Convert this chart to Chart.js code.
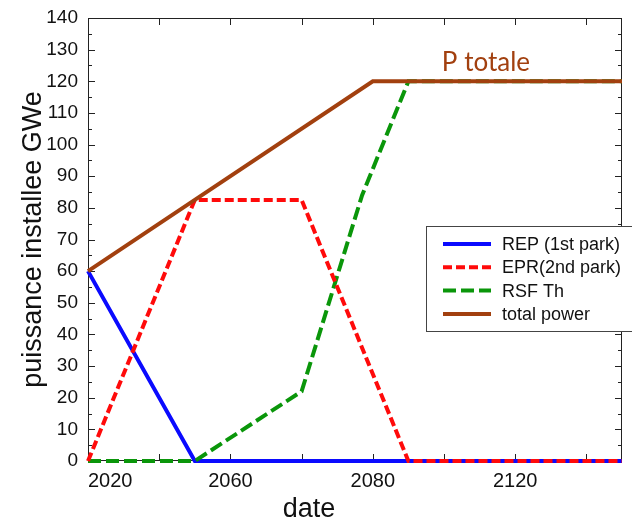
<!DOCTYPE html>
<html>
<head>
<meta charset="utf-8">
<script src="https://cdn.jsdelivr.net/npm/chart.js@4.4.1/dist/chart.umd.min.js"></script>
<style>
  body { margin: 0; background: #fff; }
</style>
</head>
<body>
<canvas id="power" width="632" height="523"></canvas>
<script>
// tick labels as printed on the original (every other tick labelled)
var xTickLabels = ['2020', '', '2060', '', '2080', '', '2120', ''];

var repYears = [2020, 2035, 2095];
var repValues = [60, 0, 0];

var eprYears = [2020, 2035, 2050, 2065, 2095];
var eprValues = [0, 82.5, 82.5, 0, 0];

var rsfYears = [2020, 2035, 2050, 2058.5, 2065, 2095];
var rsfValues = [0, 0, 22, 84, 120, 120];

var totalYears = [2020, 2035, 2060, 2095];
var totalValues = [60, 82.5, 120, 120];

function pts(xs, ys) {
    return xs.map(function (x, i) { return {x: x, y: ys[i]}; });
}

var FONT = "'Liberation Sans', Arial, sans-serif";

var framePlugin = {
    id: 'frame',
    beforeDatasetsDraw: function (chart) {
        var a = chart.chartArea, ctx = chart.ctx;
        var xs = chart.scales.x, ys = chart.scales.y;
        ctx.save();
        ctx.strokeStyle = '#222';
        ctx.lineWidth = 1;
        ctx.strokeRect(a.left + 0.5, a.top + 0.5, a.right - a.left - 1, a.bottom - a.top - 1);
        ctx.beginPath();
        for (var v = 0; v <= 140; v += 5) {
            var py = Math.round(ys.getPixelForValue(v)) + 0.5;
            var len = (v % 10 === 0) ? 7 : 4;
            ctx.moveTo(a.left, py); ctx.lineTo(a.left + len, py);
            ctx.moveTo(a.right, py); ctx.lineTo(a.right - len, py);
        }
        for (var yr = 2030; yr < 2095; yr += 10) {
            var px = Math.round(xs.getPixelForValue(yr)) + 0.5;
            ctx.moveTo(px, a.bottom); ctx.lineTo(px, a.bottom - 7);
            ctx.moveTo(px, a.top); ctx.lineTo(px, a.top + 7);
        }
        ctx.stroke();
        ctx.restore();
    },
    afterDraw: function (chart) {
        var ctx = chart.ctx;
        var xs = chart.scales.x, ys = chart.scales.y;
        ctx.save();
        // x axis title, sitting left of centre as in the original
        ctx.fillStyle = '#111';
        ctx.font = '27px ' + FONT;
        ctx.textAlign = 'center';
        ctx.textBaseline = 'alphabetic';
        ctx.fillText('date', 309, 517);

        // "P totale" annotation
        ctx.fillStyle = '#A2400F';
        ctx.font = "26px Lato, 'Open Sans', sans-serif";
        ctx.textAlign = 'left';
        ctx.fillText('P totale', xs.getPixelForValue(2069.7), ys.getPixelForValue(123.2));

        // legend box inside the plot
        var bx = 426, by = 226, bw = 220, bh = 105;
        ctx.fillStyle = '#fff';
        ctx.fillRect(bx, by, bw, bh);
        ctx.strokeStyle = '#444';
        ctx.lineWidth = 1;
        ctx.strokeRect(bx + 0.5, by + 0.5, bw, bh);
        ctx.font = '18px ' + FONT;
        ctx.textBaseline = 'middle';
        chart.data.datasets.forEach(function (ds, i) {
            var ry = by + 18 + i * 23.3;
            ctx.beginPath();
            ctx.strokeStyle = ds.borderColor;
            ctx.lineWidth = 4;
            ctx.setLineDash(ds.borderDash || []);
            ctx.moveTo(bx + 17, ry);
            ctx.lineTo(bx + 65, ry);
            ctx.stroke();
            ctx.setLineDash([]);
            ctx.fillStyle = '#111';
            ctx.fillText(ds.label, bx + 76, ry + 1);
        });
        ctx.restore();
    }
};

var chart = new Chart(document.getElementById('power'), {
    type: 'line',
    data: {
        datasets: [
            {
                label: 'REP (1st park)',
                data: pts(repYears, repValues),
                borderColor: '#0a0aff',
                borderWidth: 4,
                order: 3
            },
            {
                label: 'EPR(2nd park)',
                data: pts(eprYears, eprValues),
                borderColor: '#ff0a0a',
                borderWidth: 4,
                borderDash: [9, 4],
                order: 1
            },
            {
                label: 'RSF Th',
                data: pts(rsfYears, rsfValues),
                borderColor: '#0a960a',
                borderWidth: 4,
                borderDash: [13, 5],
                order: 2
            },
            {
                label: 'total power',
                data: pts(totalYears, totalValues),
                borderColor: '#A2400F',
                borderWidth: 4,
                order: 0
            }
        ]
    },
    options: {
        responsive: false,
        animation: false,
        layout: { padding: { top: 0, right: 10, left: 0, bottom: 0 } },
        elements: {
            point: { radius: 0 },
            line: { tension: 0, fill: false, borderCapStyle: 'butt' }
        },
        datasets: { line: { clip: false } },
        plugins: {
            legend: { display: false },
            tooltip: { enabled: false }
        },
        scales: {
            x: {
                type: 'linear',
                min: 2020,
                max: 2095,
                grid: { display: false, drawTicks: false },
                border: { display: false },
                ticks: {
                    stepSize: 10,
                    autoSkip: false,
                    maxRotation: 0,
                    align: 'inner',
                    padding: 8,
                    color: '#111',
                    font: { family: FONT, size: 20 },
                    callback: function (v) {
                        var i = Math.round((v - 2020) / 10);
                        return xTickLabels[i] || '';
                    }
                },
                afterFit: function (s) { s.height = 62; }
            },
            y: {
                min: 0,
                max: 140,
                grid: { display: false, drawTicks: false },
                border: { display: false },
                ticks: {
                    stepSize: 10,
                    padding: 10,
                    color: '#111',
                    font: { family: FONT, size: 19 }
                },
                title: {
                    display: true,
                    text: 'puissance installee GWe',
                    color: '#111',
                    font: { family: FONT, size: 27 },
                    padding: { top: 17, bottom: 0 }
                },
                afterFit: function (s) { s.width = 88; s.paddingTop = 18; }
            }
        }
    },
    plugins: [framePlugin]
});
</script>
</body>
</html>
